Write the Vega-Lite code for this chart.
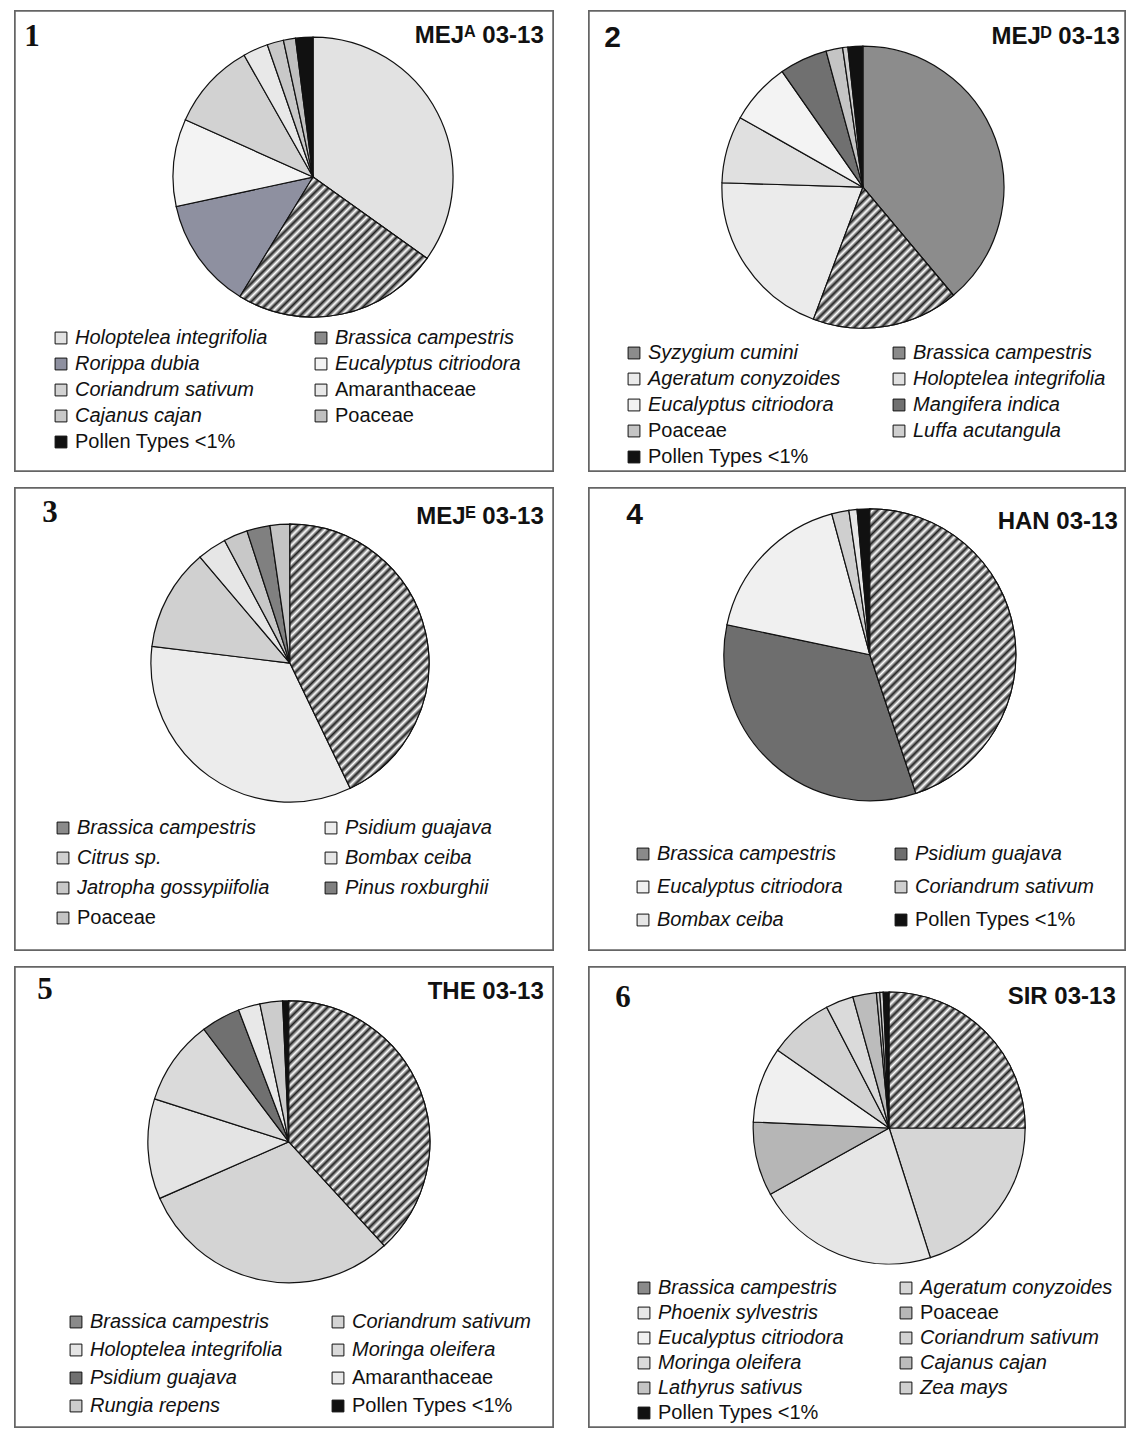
{
  "$schema": "https://vega.github.io/schema/vega-lite/v6.json",
  "padding": {"left": 14, "top": 10, "right": 0, "bottom": 0},
  "background": "white",
  "config": {
    "view": {"stroke": null},
    "font": "Liberation Sans",
    "legend": {
      "orient": "none", "columns": 2, "direction": "horizontal", "symbolType": "square", "symbolSize": 140,
      "symbolStrokeColor": "#111", "symbolStrokeWidth": 1, "labelFont": "Liberation Sans",
      "labelFontSize": 20, "labelColor": "#111", "labelLimit": 400, "rowPadding": 6,
      "columnPadding": 52, "padding": 0, "labelOffset": 4
    },
    "title": {"color": "#111", "fontWeight": "bold", "font": "Liberation Sans"}
  },
  "datasets": {
    "p1": [
      {"taxon": "Holoptelea integrifolia", "pct": 34.9, "i": 1},
      {"taxon": "Brassica campestris", "pct": 23.9, "i": 2},
      {"taxon": "Rorippa dubia", "pct": 12.9, "i": 3},
      {"taxon": "Eucalyptus citriodora", "pct": 10.1, "i": 4},
      {"taxon": "Coriandrum sativum", "pct": 10.1, "i": 5},
      {"taxon": "Amaranthaceae", "pct": 2.9, "i": 6},
      {"taxon": "Cajanus cajan", "pct": 1.9, "i": 7},
      {"taxon": "Poaceae", "pct": 1.4, "i": 8},
      {"taxon": "Pollen Types <1%", "pct": 2.0, "i": 9}
    ],
    "p2": [
      {"taxon": "Syzygium cumini", "pct": 38.9, "i": 1},
      {"taxon": "Brassica campestris", "pct": 16.8, "i": 2},
      {"taxon": "Ageratum conyzoides", "pct": 19.8, "i": 3},
      {"taxon": "Holoptelea integrifolia", "pct": 7.7, "i": 4},
      {"taxon": "Eucalyptus citriodora", "pct": 7.1, "i": 5},
      {"taxon": "Mangifera indica", "pct": 5.5, "i": 6},
      {"taxon": "Poaceae", "pct": 1.9, "i": 7},
      {"taxon": "Luffa acutangula", "pct": 0.6, "i": 8},
      {"taxon": "Pollen Types <1%", "pct": 1.7, "i": 9}
    ],
    "p3": [
      {"taxon": "Brassica campestris", "pct": 42.9, "i": 1},
      {"taxon": "Psidium guajava", "pct": 34.1, "i": 2},
      {"taxon": "Citrus sp.", "pct": 11.9, "i": 3},
      {"taxon": "Bombax ceiba", "pct": 3.4, "i": 4},
      {"taxon": "Jatropha gossypiifolia", "pct": 2.8, "i": 5},
      {"taxon": "Pinus roxburghii", "pct": 2.7, "i": 6},
      {"taxon": "Poaceae", "pct": 2.3, "i": 7}
    ],
    "p4": [
      {"taxon": "Brassica campestris", "pct": 44.9, "i": 1},
      {"taxon": "Psidium guajava", "pct": 33.4, "i": 2},
      {"taxon": "Eucalyptus citriodora", "pct": 17.5, "i": 3},
      {"taxon": "Coriandrum sativum", "pct": 1.9, "i": 4},
      {"taxon": "Bombax ceiba", "pct": 0.9, "i": 5},
      {"taxon": "Pollen Types <1%", "pct": 1.4, "i": 6}
    ],
    "p5": [
      {"taxon": "Brassica campestris", "pct": 38.2, "i": 1},
      {"taxon": "Coriandrum sativum", "pct": 30.3, "i": 2},
      {"taxon": "Holoptelea integrifolia", "pct": 11.5, "i": 3},
      {"taxon": "Moringa oleifera", "pct": 9.8, "i": 4},
      {"taxon": "Psidium guajava", "pct": 4.5, "i": 5},
      {"taxon": "Amaranthaceae", "pct": 2.5, "i": 6},
      {"taxon": "Rungia repens", "pct": 2.6, "i": 7},
      {"taxon": "Pollen Types <1%", "pct": 0.7, "i": 8}
    ],
    "p6": [
      {"taxon": "Brassica campestris", "pct": 25.0, "i": 1},
      {"taxon": "Ageratum conyzoides", "pct": 20.1, "i": 2},
      {"taxon": "Phoenix sylvestris", "pct": 21.8, "i": 3},
      {"taxon": "Poaceae", "pct": 8.8, "i": 4},
      {"taxon": "Eucalyptus citriodora", "pct": 9.0, "i": 5},
      {"taxon": "Coriandrum sativum", "pct": 7.7, "i": 6},
      {"taxon": "Moringa oleifera", "pct": 3.3, "i": 7},
      {"taxon": "Cajanus cajan", "pct": 2.8, "i": 8},
      {"taxon": "Lathyrus sativus", "pct": 0.4, "i": 9},
      {"taxon": "Zea mays", "pct": 0.4, "i": 10},
      {"taxon": "Pollen Types <1%", "pct": 0.7, "i": 11}
    ]
  },
  "spacing": 15,
  "resolve": {"scale": {"color": "independent", "theta": "independent", "x": "independent", "y": "independent"}, "legend": {"color": "independent"}},
  "vconcat": [
    {
      "spacing": 34,
      "resolve": {"scale": {"color": "independent", "theta": "independent", "x": "independent", "y": "independent"}, "legend": {"color": "independent"}},
      "hconcat": [
        {
          "title": {"text": "1", "anchor": "start", "offset": -43, "dx": 10, "font": "Liberation Serif", "fontSize": 31},
          "vconcat": [{
            "width": 538, "height": 460,
            "title": {"text": "MEJᴬ 03-13", "anchor": "end", "offset": -38, "dx": -10, "fontSize": 24},
            "data": {"name": "p1"},
            "encoding": {
              "theta": {"field": "pct", "type": "quantitative", "stack": true},
              "order": {"field": "i", "type": "quantitative"}
            },
            "layer": [
              {"mark": {"type": "rect", "fill": "white", "stroke": "#666", "strokeWidth": 1.5},
               "encoding": {"theta": null, "order": null, "x": {"datum": 0, "type": "quantitative", "scale": {"domain": [0, 1]}, "axis": null}, "x2": {"datum": 1},
                            "y": {"datum": 0, "type": "quantitative", "scale": {"domain": [0, 1]}, "axis": null}, "y2": {"datum": 1}}},
              {"mark": {"type": "arc", "outerRadius": 140, "stroke": "#111", "strokeWidth": 1.2},
               "encoding": {
                 "x": {"datum": 0.554, "type": "quantitative"},
                 "y": {"datum": 0.639, "type": "quantitative"},
                 "color": {"field": "taxon", "type": "nominal",
                   "scale": {"domain": ["Holoptelea integrifolia", "Brassica campestris", "Rorippa dubia", "Eucalyptus citriodora", "Coriandrum sativum", "Amaranthaceae", "Cajanus cajan", "Poaceae", "Pollen Types <1%"],
                             "range": ["#e2e2e2", "#8a8a8a", "#8e90a0", "#f3f3f3", "#d2d2d2", "#e8e8e8", "#c8c8c8", "#c0c0c0", "#111111"]},
                   "legend": {"title": null, "legendX": 36, "legendY": 317, "columnPadding": 43, "rowPadding": 6,
                     "encode": {"labels": {"update": {"fontStyle": {"signal": "indexof(['Poaceae','Amaranthaceae','Pollen Types <1%'], datum.label) >= 0 ? 'normal' : 'italic'"}}}}}
                 }
               }},
              {"mark": {"type": "arc", "outerRadius": 140, "stroke": "#111", "strokeWidth": 1.2,
                 "fill": {"gradient": "linear", "x1": 0, "y1": 0, "x2": 1.487, "y2": 1.112, "stops": [{"offset":0,"color":"#222"},{"offset":0.01,"color":"#fff"},{"offset":0.021,"color":"#222"},{"offset":0.031,"color":"#fff"},{"offset":0.042,"color":"#222"},{"offset":0.052,"color":"#fff"},{"offset":0.063,"color":"#222"},{"offset":0.073,"color":"#fff"},{"offset":0.083,"color":"#222"},{"offset":0.094,"color":"#fff"},{"offset":0.104,"color":"#222"},{"offset":0.115,"color":"#fff"},{"offset":0.125,"color":"#222"},{"offset":0.135,"color":"#fff"},{"offset":0.146,"color":"#222"},{"offset":0.156,"color":"#fff"},{"offset":0.167,"color":"#222"},{"offset":0.177,"color":"#fff"},{"offset":0.188,"color":"#222"},{"offset":0.198,"color":"#fff"},{"offset":0.208,"color":"#222"},{"offset":0.219,"color":"#fff"},{"offset":0.229,"color":"#222"},{"offset":0.24,"color":"#fff"},{"offset":0.25,"color":"#222"},{"offset":0.26,"color":"#fff"},{"offset":0.271,"color":"#222"},{"offset":0.281,"color":"#fff"},{"offset":0.292,"color":"#222"},{"offset":0.302,"color":"#fff"},{"offset":0.313,"color":"#222"},{"offset":0.323,"color":"#fff"},{"offset":0.333,"color":"#222"},{"offset":0.344,"color":"#fff"},{"offset":0.354,"color":"#222"},{"offset":0.365,"color":"#fff"},{"offset":0.375,"color":"#222"},{"offset":0.385,"color":"#fff"},{"offset":0.396,"color":"#222"},{"offset":0.406,"color":"#fff"},{"offset":0.417,"color":"#222"},{"offset":0.427,"color":"#fff"},{"offset":0.438,"color":"#222"},{"offset":0.448,"color":"#fff"},{"offset":0.458,"color":"#222"},{"offset":0.469,"color":"#fff"},{"offset":0.479,"color":"#222"},{"offset":0.49,"color":"#fff"},{"offset":0.5,"color":"#222"},{"offset":0.51,"color":"#fff"},{"offset":0.521,"color":"#222"},{"offset":0.531,"color":"#fff"},{"offset":0.542,"color":"#222"},{"offset":0.552,"color":"#fff"},{"offset":0.563,"color":"#222"},{"offset":0.573,"color":"#fff"},{"offset":0.583,"color":"#222"},{"offset":0.594,"color":"#fff"},{"offset":0.604,"color":"#222"},{"offset":0.615,"color":"#fff"},{"offset":0.625,"color":"#222"},{"offset":0.635,"color":"#fff"},{"offset":0.646,"color":"#222"},{"offset":0.656,"color":"#fff"},{"offset":0.667,"color":"#222"},{"offset":0.677,"color":"#fff"},{"offset":0.688,"color":"#222"},{"offset":0.698,"color":"#fff"},{"offset":0.708,"color":"#222"},{"offset":0.719,"color":"#fff"},{"offset":0.729,"color":"#222"},{"offset":0.74,"color":"#fff"},{"offset":0.75,"color":"#222"},{"offset":0.76,"color":"#fff"},{"offset":0.771,"color":"#222"},{"offset":0.781,"color":"#fff"},{"offset":0.792,"color":"#222"},{"offset":0.802,"color":"#fff"},{"offset":0.813,"color":"#222"},{"offset":0.823,"color":"#fff"},{"offset":0.833,"color":"#222"},{"offset":0.844,"color":"#fff"},{"offset":0.854,"color":"#222"},{"offset":0.865,"color":"#fff"},{"offset":0.875,"color":"#222"},{"offset":0.885,"color":"#fff"},{"offset":0.896,"color":"#222"},{"offset":0.906,"color":"#fff"},{"offset":0.917,"color":"#222"},{"offset":0.927,"color":"#fff"},{"offset":0.938,"color":"#222"},{"offset":0.948,"color":"#fff"},{"offset":0.958,"color":"#222"},{"offset":0.969,"color":"#fff"},{"offset":0.979,"color":"#222"},{"offset":0.99,"color":"#fff"},{"offset":1,"color":"#222"}]}},
               "encoding": {
                 "x": {"datum": 0.554, "type": "quantitative"},
                 "y": {"datum": 0.639, "type": "quantitative"},
                 "opacity": {"condition": {"test": "datum.taxon === 'Brassica campestris'", "value": 1}, "value": 0}
               }}
            ]
          }]
        },
        {
          "title": {"text": "2", "anchor": "start", "offset": -43, "dx": 16, "font": "Liberation Sans", "fontSize": 30},
          "vconcat": [{
            "width": 536, "height": 460,
            "title": {"text": "MEJᴰ 03-13", "anchor": "end", "offset": -39, "dx": -6, "fontSize": 24},
            "data": {"name": "p2"},
            "encoding": {
              "theta": {"field": "pct", "type": "quantitative", "stack": true},
              "order": {"field": "i", "type": "quantitative"}
            },
            "layer": [
              {"mark": {"type": "rect", "fill": "white", "stroke": "#666", "strokeWidth": 1.5},
               "encoding": {"theta": null, "order": null, "x": {"datum": 0, "type": "quantitative", "scale": {"domain": [0, 1]}, "axis": null}, "x2": {"datum": 1},
                            "y": {"datum": 0, "type": "quantitative", "scale": {"domain": [0, 1]}, "axis": null}, "y2": {"datum": 1}}},
              {"mark": {"type": "arc", "outerRadius": 141, "stroke": "#111", "strokeWidth": 1.2},
               "encoding": {
                 "x": {"datum": 0.511, "type": "quantitative"},
                 "y": {"datum": 0.617, "type": "quantitative"},
                 "color": {"field": "taxon", "type": "nominal",
                   "scale": {"domain": ["Syzygium cumini", "Brassica campestris", "Ageratum conyzoides", "Holoptelea integrifolia", "Eucalyptus citriodora", "Mangifera indica", "Poaceae", "Luffa acutangula", "Pollen Types <1%"],
                             "range": ["#8c8c8c", "#8a8a8a", "#ebebeb", "#e0e0e0", "#f3f3f3", "#707070", "#c4c4c4", "#cfcfcf", "#111111"]},
                   "legend": {"title": null, "legendX": 35, "legendY": 332, "columnPadding": 48, "rowPadding": 6,
                     "encode": {"labels": {"update": {"fontStyle": {"signal": "indexof(['Poaceae','Amaranthaceae','Pollen Types <1%'], datum.label) >= 0 ? 'normal' : 'italic'"}}}}}
                 }
               }},
              {"mark": {"type": "arc", "outerRadius": 141, "stroke": "#111", "strokeWidth": 1.2,
                 "fill": {"gradient": "linear", "x1": 0, "y1": 0, "x2": 1.54, "y2": 1.551, "stops": [{"offset":0,"color":"#222"},{"offset":0.01,"color":"#fff"},{"offset":0.021,"color":"#222"},{"offset":0.031,"color":"#fff"},{"offset":0.042,"color":"#222"},{"offset":0.052,"color":"#fff"},{"offset":0.063,"color":"#222"},{"offset":0.073,"color":"#fff"},{"offset":0.083,"color":"#222"},{"offset":0.094,"color":"#fff"},{"offset":0.104,"color":"#222"},{"offset":0.115,"color":"#fff"},{"offset":0.125,"color":"#222"},{"offset":0.135,"color":"#fff"},{"offset":0.146,"color":"#222"},{"offset":0.156,"color":"#fff"},{"offset":0.167,"color":"#222"},{"offset":0.177,"color":"#fff"},{"offset":0.188,"color":"#222"},{"offset":0.198,"color":"#fff"},{"offset":0.208,"color":"#222"},{"offset":0.219,"color":"#fff"},{"offset":0.229,"color":"#222"},{"offset":0.24,"color":"#fff"},{"offset":0.25,"color":"#222"},{"offset":0.26,"color":"#fff"},{"offset":0.271,"color":"#222"},{"offset":0.281,"color":"#fff"},{"offset":0.292,"color":"#222"},{"offset":0.302,"color":"#fff"},{"offset":0.313,"color":"#222"},{"offset":0.323,"color":"#fff"},{"offset":0.333,"color":"#222"},{"offset":0.344,"color":"#fff"},{"offset":0.354,"color":"#222"},{"offset":0.365,"color":"#fff"},{"offset":0.375,"color":"#222"},{"offset":0.385,"color":"#fff"},{"offset":0.396,"color":"#222"},{"offset":0.406,"color":"#fff"},{"offset":0.417,"color":"#222"},{"offset":0.427,"color":"#fff"},{"offset":0.438,"color":"#222"},{"offset":0.448,"color":"#fff"},{"offset":0.458,"color":"#222"},{"offset":0.469,"color":"#fff"},{"offset":0.479,"color":"#222"},{"offset":0.49,"color":"#fff"},{"offset":0.5,"color":"#222"},{"offset":0.51,"color":"#fff"},{"offset":0.521,"color":"#222"},{"offset":0.531,"color":"#fff"},{"offset":0.542,"color":"#222"},{"offset":0.552,"color":"#fff"},{"offset":0.563,"color":"#222"},{"offset":0.573,"color":"#fff"},{"offset":0.583,"color":"#222"},{"offset":0.594,"color":"#fff"},{"offset":0.604,"color":"#222"},{"offset":0.615,"color":"#fff"},{"offset":0.625,"color":"#222"},{"offset":0.635,"color":"#fff"},{"offset":0.646,"color":"#222"},{"offset":0.656,"color":"#fff"},{"offset":0.667,"color":"#222"},{"offset":0.677,"color":"#fff"},{"offset":0.688,"color":"#222"},{"offset":0.698,"color":"#fff"},{"offset":0.708,"color":"#222"},{"offset":0.719,"color":"#fff"},{"offset":0.729,"color":"#222"},{"offset":0.74,"color":"#fff"},{"offset":0.75,"color":"#222"},{"offset":0.76,"color":"#fff"},{"offset":0.771,"color":"#222"},{"offset":0.781,"color":"#fff"},{"offset":0.792,"color":"#222"},{"offset":0.802,"color":"#fff"},{"offset":0.813,"color":"#222"},{"offset":0.823,"color":"#fff"},{"offset":0.833,"color":"#222"},{"offset":0.844,"color":"#fff"},{"offset":0.854,"color":"#222"},{"offset":0.865,"color":"#fff"},{"offset":0.875,"color":"#222"},{"offset":0.885,"color":"#fff"},{"offset":0.896,"color":"#222"},{"offset":0.906,"color":"#fff"},{"offset":0.917,"color":"#222"},{"offset":0.927,"color":"#fff"},{"offset":0.938,"color":"#222"},{"offset":0.948,"color":"#fff"},{"offset":0.958,"color":"#222"},{"offset":0.969,"color":"#fff"},{"offset":0.979,"color":"#222"},{"offset":0.99,"color":"#fff"},{"offset":1,"color":"#222"}]}},
               "encoding": {
                 "x": {"datum": 0.511, "type": "quantitative"},
                 "y": {"datum": 0.617, "type": "quantitative"},
                 "opacity": {"condition": {"test": "datum.taxon === 'Brassica campestris'", "value": 1}, "value": 0}
               }}
            ]
          }]
        }
      ]
    },
    {
      "spacing": 34,
      "resolve": {"scale": {"color": "independent", "theta": "independent", "x": "independent", "y": "independent"}, "legend": {"color": "independent"}},
      "hconcat": [
        {
          "title": {"text": "3", "anchor": "start", "offset": -42, "dx": 28, "font": "Liberation Serif", "fontSize": 31},
          "vconcat": [{
            "width": 538, "height": 462,
            "title": {"text": "MEJᴱ 03-13", "anchor": "end", "offset": -42, "dx": -10, "fontSize": 24},
            "data": {"name": "p3"},
            "encoding": {
              "theta": {"field": "pct", "type": "quantitative", "stack": true},
              "order": {"field": "i", "type": "quantitative"}
            },
            "layer": [
              {"mark": {"type": "rect", "fill": "white", "stroke": "#666", "strokeWidth": 1.5},
               "encoding": {"theta": null, "order": null, "x": {"datum": 0, "type": "quantitative", "scale": {"domain": [0, 1]}, "axis": null}, "x2": {"datum": 1},
                            "y": {"datum": 0, "type": "quantitative", "scale": {"domain": [0, 1]}, "axis": null}, "y2": {"datum": 1}}},
              {"mark": {"type": "arc", "outerRadius": 139, "stroke": "#111", "strokeWidth": 1.2},
               "encoding": {
                 "x": {"datum": 0.511, "type": "quantitative"},
                 "y": {"datum": 0.621, "type": "quantitative"},
                 "color": {"field": "taxon", "type": "nominal",
                   "scale": {"domain": ["Brassica campestris", "Psidium guajava", "Citrus sp.", "Bombax ceiba", "Jatropha gossypiifolia", "Pinus roxburghii", "Poaceae"],
                             "range": ["#8a8a8a", "#ececec", "#d0d0d0", "#e6e6e6", "#c8c8c8", "#808080", "#c4c4c4"]},
                   "legend": {"title": null, "legendX": 38, "legendY": 330, "columnPadding": 51, "rowPadding": 10,
                     "encode": {"labels": {"update": {"fontStyle": {"signal": "indexof(['Poaceae','Amaranthaceae','Pollen Types <1%'], datum.label) >= 0 ? 'normal' : 'italic'"}}}}}
                 }
               }},
              {"mark": {"type": "arc", "outerRadius": 139, "stroke": "#111", "strokeWidth": 1.2,
                 "fill": {"gradient": "linear", "x1": 0, "y1": 0, "x2": 0.676, "y2": 1.287, "stops": [{"offset":0,"color":"#222"},{"offset":0.01,"color":"#fff"},{"offset":0.021,"color":"#222"},{"offset":0.031,"color":"#fff"},{"offset":0.042,"color":"#222"},{"offset":0.052,"color":"#fff"},{"offset":0.063,"color":"#222"},{"offset":0.073,"color":"#fff"},{"offset":0.083,"color":"#222"},{"offset":0.094,"color":"#fff"},{"offset":0.104,"color":"#222"},{"offset":0.115,"color":"#fff"},{"offset":0.125,"color":"#222"},{"offset":0.135,"color":"#fff"},{"offset":0.146,"color":"#222"},{"offset":0.156,"color":"#fff"},{"offset":0.167,"color":"#222"},{"offset":0.177,"color":"#fff"},{"offset":0.188,"color":"#222"},{"offset":0.198,"color":"#fff"},{"offset":0.208,"color":"#222"},{"offset":0.219,"color":"#fff"},{"offset":0.229,"color":"#222"},{"offset":0.24,"color":"#fff"},{"offset":0.25,"color":"#222"},{"offset":0.26,"color":"#fff"},{"offset":0.271,"color":"#222"},{"offset":0.281,"color":"#fff"},{"offset":0.292,"color":"#222"},{"offset":0.302,"color":"#fff"},{"offset":0.313,"color":"#222"},{"offset":0.323,"color":"#fff"},{"offset":0.333,"color":"#222"},{"offset":0.344,"color":"#fff"},{"offset":0.354,"color":"#222"},{"offset":0.365,"color":"#fff"},{"offset":0.375,"color":"#222"},{"offset":0.385,"color":"#fff"},{"offset":0.396,"color":"#222"},{"offset":0.406,"color":"#fff"},{"offset":0.417,"color":"#222"},{"offset":0.427,"color":"#fff"},{"offset":0.438,"color":"#222"},{"offset":0.448,"color":"#fff"},{"offset":0.458,"color":"#222"},{"offset":0.469,"color":"#fff"},{"offset":0.479,"color":"#222"},{"offset":0.49,"color":"#fff"},{"offset":0.5,"color":"#222"},{"offset":0.51,"color":"#fff"},{"offset":0.521,"color":"#222"},{"offset":0.531,"color":"#fff"},{"offset":0.542,"color":"#222"},{"offset":0.552,"color":"#fff"},{"offset":0.563,"color":"#222"},{"offset":0.573,"color":"#fff"},{"offset":0.583,"color":"#222"},{"offset":0.594,"color":"#fff"},{"offset":0.604,"color":"#222"},{"offset":0.615,"color":"#fff"},{"offset":0.625,"color":"#222"},{"offset":0.635,"color":"#fff"},{"offset":0.646,"color":"#222"},{"offset":0.656,"color":"#fff"},{"offset":0.667,"color":"#222"},{"offset":0.677,"color":"#fff"},{"offset":0.688,"color":"#222"},{"offset":0.698,"color":"#fff"},{"offset":0.708,"color":"#222"},{"offset":0.719,"color":"#fff"},{"offset":0.729,"color":"#222"},{"offset":0.74,"color":"#fff"},{"offset":0.75,"color":"#222"},{"offset":0.76,"color":"#fff"},{"offset":0.771,"color":"#222"},{"offset":0.781,"color":"#fff"},{"offset":0.792,"color":"#222"},{"offset":0.802,"color":"#fff"},{"offset":0.813,"color":"#222"},{"offset":0.823,"color":"#fff"},{"offset":0.833,"color":"#222"},{"offset":0.844,"color":"#fff"},{"offset":0.854,"color":"#222"},{"offset":0.865,"color":"#fff"},{"offset":0.875,"color":"#222"},{"offset":0.885,"color":"#fff"},{"offset":0.896,"color":"#222"},{"offset":0.906,"color":"#fff"},{"offset":0.917,"color":"#222"},{"offset":0.927,"color":"#fff"},{"offset":0.938,"color":"#222"},{"offset":0.948,"color":"#fff"},{"offset":0.958,"color":"#222"},{"offset":0.969,"color":"#fff"},{"offset":0.979,"color":"#222"},{"offset":0.99,"color":"#fff"},{"offset":1,"color":"#222"}]}},
               "encoding": {
                 "x": {"datum": 0.511, "type": "quantitative"},
                 "y": {"datum": 0.621, "type": "quantitative"},
                 "opacity": {"condition": {"test": "datum.taxon === 'Brassica campestris'", "value": 1}, "value": 0}
               }}
            ]
          }]
        },
        {
          "title": {"text": "4", "anchor": "start", "offset": -43, "dx": 38, "font": "Liberation Sans", "fontSize": 30},
          "vconcat": [{
            "width": 536, "height": 462,
            "title": {"text": "HAN 03-13", "anchor": "end", "offset": -47, "dx": -8, "fontSize": 24},
            "data": {"name": "p4"},
            "encoding": {
              "theta": {"field": "pct", "type": "quantitative", "stack": true},
              "order": {"field": "i", "type": "quantitative"}
            },
            "layer": [
              {"mark": {"type": "rect", "fill": "white", "stroke": "#666", "strokeWidth": 1.5},
               "encoding": {"theta": null, "order": null, "x": {"datum": 0, "type": "quantitative", "scale": {"domain": [0, 1]}, "axis": null}, "x2": {"datum": 1},
                            "y": {"datum": 0, "type": "quantitative", "scale": {"domain": [0, 1]}, "axis": null}, "y2": {"datum": 1}}},
              {"mark": {"type": "arc", "outerRadius": 146, "stroke": "#111", "strokeWidth": 1.2},
               "encoding": {
                 "x": {"datum": 0.524, "type": "quantitative"},
                 "y": {"datum": 0.639, "type": "quantitative"},
                 "color": {"field": "taxon", "type": "nominal",
                   "scale": {"domain": ["Brassica campestris", "Psidium guajava", "Eucalyptus citriodora", "Coriandrum sativum", "Bombax ceiba", "Pollen Types <1%"],
                             "range": ["#8a8a8a", "#6e6e6e", "#f0f0f0", "#cfcfcf", "#e6e6e6", "#111111"]},
                   "legend": {"title": null, "legendX": 44, "legendY": 356, "columnPadding": 48, "rowPadding": 13,
                     "encode": {"labels": {"update": {"fontStyle": {"signal": "indexof(['Poaceae','Amaranthaceae','Pollen Types <1%'], datum.label) >= 0 ? 'normal' : 'italic'"}}}}}
                 }
               }},
              {"mark": {"type": "arc", "outerRadius": 146, "stroke": "#111", "strokeWidth": 1.2,
                 "fill": {"gradient": "linear", "x1": 0, "y1": 0, "x2": 0.62, "y2": 1.208, "stops": [{"offset":0,"color":"#222"},{"offset":0.01,"color":"#fff"},{"offset":0.021,"color":"#222"},{"offset":0.031,"color":"#fff"},{"offset":0.042,"color":"#222"},{"offset":0.052,"color":"#fff"},{"offset":0.063,"color":"#222"},{"offset":0.073,"color":"#fff"},{"offset":0.083,"color":"#222"},{"offset":0.094,"color":"#fff"},{"offset":0.104,"color":"#222"},{"offset":0.115,"color":"#fff"},{"offset":0.125,"color":"#222"},{"offset":0.135,"color":"#fff"},{"offset":0.146,"color":"#222"},{"offset":0.156,"color":"#fff"},{"offset":0.167,"color":"#222"},{"offset":0.177,"color":"#fff"},{"offset":0.188,"color":"#222"},{"offset":0.198,"color":"#fff"},{"offset":0.208,"color":"#222"},{"offset":0.219,"color":"#fff"},{"offset":0.229,"color":"#222"},{"offset":0.24,"color":"#fff"},{"offset":0.25,"color":"#222"},{"offset":0.26,"color":"#fff"},{"offset":0.271,"color":"#222"},{"offset":0.281,"color":"#fff"},{"offset":0.292,"color":"#222"},{"offset":0.302,"color":"#fff"},{"offset":0.313,"color":"#222"},{"offset":0.323,"color":"#fff"},{"offset":0.333,"color":"#222"},{"offset":0.344,"color":"#fff"},{"offset":0.354,"color":"#222"},{"offset":0.365,"color":"#fff"},{"offset":0.375,"color":"#222"},{"offset":0.385,"color":"#fff"},{"offset":0.396,"color":"#222"},{"offset":0.406,"color":"#fff"},{"offset":0.417,"color":"#222"},{"offset":0.427,"color":"#fff"},{"offset":0.438,"color":"#222"},{"offset":0.448,"color":"#fff"},{"offset":0.458,"color":"#222"},{"offset":0.469,"color":"#fff"},{"offset":0.479,"color":"#222"},{"offset":0.49,"color":"#fff"},{"offset":0.5,"color":"#222"},{"offset":0.51,"color":"#fff"},{"offset":0.521,"color":"#222"},{"offset":0.531,"color":"#fff"},{"offset":0.542,"color":"#222"},{"offset":0.552,"color":"#fff"},{"offset":0.563,"color":"#222"},{"offset":0.573,"color":"#fff"},{"offset":0.583,"color":"#222"},{"offset":0.594,"color":"#fff"},{"offset":0.604,"color":"#222"},{"offset":0.615,"color":"#fff"},{"offset":0.625,"color":"#222"},{"offset":0.635,"color":"#fff"},{"offset":0.646,"color":"#222"},{"offset":0.656,"color":"#fff"},{"offset":0.667,"color":"#222"},{"offset":0.677,"color":"#fff"},{"offset":0.688,"color":"#222"},{"offset":0.698,"color":"#fff"},{"offset":0.708,"color":"#222"},{"offset":0.719,"color":"#fff"},{"offset":0.729,"color":"#222"},{"offset":0.74,"color":"#fff"},{"offset":0.75,"color":"#222"},{"offset":0.76,"color":"#fff"},{"offset":0.771,"color":"#222"},{"offset":0.781,"color":"#fff"},{"offset":0.792,"color":"#222"},{"offset":0.802,"color":"#fff"},{"offset":0.813,"color":"#222"},{"offset":0.823,"color":"#fff"},{"offset":0.833,"color":"#222"},{"offset":0.844,"color":"#fff"},{"offset":0.854,"color":"#222"},{"offset":0.865,"color":"#fff"},{"offset":0.875,"color":"#222"},{"offset":0.885,"color":"#fff"},{"offset":0.896,"color":"#222"},{"offset":0.906,"color":"#fff"},{"offset":0.917,"color":"#222"},{"offset":0.927,"color":"#fff"},{"offset":0.938,"color":"#222"},{"offset":0.948,"color":"#fff"},{"offset":0.958,"color":"#222"},{"offset":0.969,"color":"#fff"},{"offset":0.979,"color":"#222"},{"offset":0.99,"color":"#fff"},{"offset":1,"color":"#222"}]}},
               "encoding": {
                 "x": {"datum": 0.524, "type": "quantitative"},
                 "y": {"datum": 0.639, "type": "quantitative"},
                 "opacity": {"condition": {"test": "datum.taxon === 'Brassica campestris'", "value": 1}, "value": 0}
               }}
            ]
          }]
        }
      ]
    },
    {
      "spacing": 34,
      "resolve": {"scale": {"color": "independent", "theta": "independent", "x": "independent", "y": "independent"}, "legend": {"color": "independent"}},
      "hconcat": [
        {
          "title": {"text": "5", "anchor": "start", "offset": -40, "dx": 23, "font": "Liberation Serif", "fontSize": 31},
          "vconcat": [{
            "width": 538, "height": 460,
            "title": {"text": "THE 03-13", "anchor": "end", "offset": -38, "dx": -10, "fontSize": 24},
            "data": {"name": "p5"},
            "encoding": {
              "theta": {"field": "pct", "type": "quantitative", "stack": true},
              "order": {"field": "i", "type": "quantitative"}
            },
            "layer": [
              {"mark": {"type": "rect", "fill": "white", "stroke": "#666", "strokeWidth": 1.5},
               "encoding": {"theta": null, "order": null, "x": {"datum": 0, "type": "quantitative", "scale": {"domain": [0, 1]}, "axis": null}, "x2": {"datum": 1},
                            "y": {"datum": 0, "type": "quantitative", "scale": {"domain": [0, 1]}, "axis": null}, "y2": {"datum": 1}}},
              {"mark": {"type": "arc", "outerRadius": 141, "stroke": "#111", "strokeWidth": 1.2},
               "encoding": {
                 "x": {"datum": 0.509, "type": "quantitative"},
                 "y": {"datum": 0.62, "type": "quantitative"},
                 "color": {"field": "taxon", "type": "nominal",
                   "scale": {"domain": ["Brassica campestris", "Coriandrum sativum", "Holoptelea integrifolia", "Moringa oleifera", "Psidium guajava", "Amaranthaceae", "Rungia repens", "Pollen Types <1%"],
                             "range": ["#8a8a8a", "#d4d4d4", "#e4e4e4", "#dadada", "#707070", "#e8e8e8", "#cccccc", "#111111"]},
                   "legend": {"title": null, "legendX": 51, "legendY": 345, "columnPadding": 45, "rowPadding": 8,
                     "encode": {"labels": {"update": {"fontStyle": {"signal": "indexof(['Poaceae','Amaranthaceae','Pollen Types <1%'], datum.label) >= 0 ? 'normal' : 'italic'"}}}}}
                 }
               }},
              {"mark": {"type": "arc", "outerRadius": 141, "stroke": "#111", "strokeWidth": 1.2,
                 "fill": {"gradient": "linear", "x1": 0, "y1": 0, "x2": 0.766, "y2": 1.331, "stops": [{"offset":0,"color":"#222"},{"offset":0.01,"color":"#fff"},{"offset":0.021,"color":"#222"},{"offset":0.031,"color":"#fff"},{"offset":0.042,"color":"#222"},{"offset":0.052,"color":"#fff"},{"offset":0.063,"color":"#222"},{"offset":0.073,"color":"#fff"},{"offset":0.083,"color":"#222"},{"offset":0.094,"color":"#fff"},{"offset":0.104,"color":"#222"},{"offset":0.115,"color":"#fff"},{"offset":0.125,"color":"#222"},{"offset":0.135,"color":"#fff"},{"offset":0.146,"color":"#222"},{"offset":0.156,"color":"#fff"},{"offset":0.167,"color":"#222"},{"offset":0.177,"color":"#fff"},{"offset":0.188,"color":"#222"},{"offset":0.198,"color":"#fff"},{"offset":0.208,"color":"#222"},{"offset":0.219,"color":"#fff"},{"offset":0.229,"color":"#222"},{"offset":0.24,"color":"#fff"},{"offset":0.25,"color":"#222"},{"offset":0.26,"color":"#fff"},{"offset":0.271,"color":"#222"},{"offset":0.281,"color":"#fff"},{"offset":0.292,"color":"#222"},{"offset":0.302,"color":"#fff"},{"offset":0.313,"color":"#222"},{"offset":0.323,"color":"#fff"},{"offset":0.333,"color":"#222"},{"offset":0.344,"color":"#fff"},{"offset":0.354,"color":"#222"},{"offset":0.365,"color":"#fff"},{"offset":0.375,"color":"#222"},{"offset":0.385,"color":"#fff"},{"offset":0.396,"color":"#222"},{"offset":0.406,"color":"#fff"},{"offset":0.417,"color":"#222"},{"offset":0.427,"color":"#fff"},{"offset":0.438,"color":"#222"},{"offset":0.448,"color":"#fff"},{"offset":0.458,"color":"#222"},{"offset":0.469,"color":"#fff"},{"offset":0.479,"color":"#222"},{"offset":0.49,"color":"#fff"},{"offset":0.5,"color":"#222"},{"offset":0.51,"color":"#fff"},{"offset":0.521,"color":"#222"},{"offset":0.531,"color":"#fff"},{"offset":0.542,"color":"#222"},{"offset":0.552,"color":"#fff"},{"offset":0.563,"color":"#222"},{"offset":0.573,"color":"#fff"},{"offset":0.583,"color":"#222"},{"offset":0.594,"color":"#fff"},{"offset":0.604,"color":"#222"},{"offset":0.615,"color":"#fff"},{"offset":0.625,"color":"#222"},{"offset":0.635,"color":"#fff"},{"offset":0.646,"color":"#222"},{"offset":0.656,"color":"#fff"},{"offset":0.667,"color":"#222"},{"offset":0.677,"color":"#fff"},{"offset":0.688,"color":"#222"},{"offset":0.698,"color":"#fff"},{"offset":0.708,"color":"#222"},{"offset":0.719,"color":"#fff"},{"offset":0.729,"color":"#222"},{"offset":0.74,"color":"#fff"},{"offset":0.75,"color":"#222"},{"offset":0.76,"color":"#fff"},{"offset":0.771,"color":"#222"},{"offset":0.781,"color":"#fff"},{"offset":0.792,"color":"#222"},{"offset":0.802,"color":"#fff"},{"offset":0.813,"color":"#222"},{"offset":0.823,"color":"#fff"},{"offset":0.833,"color":"#222"},{"offset":0.844,"color":"#fff"},{"offset":0.854,"color":"#222"},{"offset":0.865,"color":"#fff"},{"offset":0.875,"color":"#222"},{"offset":0.885,"color":"#fff"},{"offset":0.896,"color":"#222"},{"offset":0.906,"color":"#fff"},{"offset":0.917,"color":"#222"},{"offset":0.927,"color":"#fff"},{"offset":0.938,"color":"#222"},{"offset":0.948,"color":"#fff"},{"offset":0.958,"color":"#222"},{"offset":0.969,"color":"#fff"},{"offset":0.979,"color":"#222"},{"offset":0.99,"color":"#fff"},{"offset":1,"color":"#222"}]}},
               "encoding": {
                 "x": {"datum": 0.509, "type": "quantitative"},
                 "y": {"datum": 0.62, "type": "quantitative"},
                 "opacity": {"condition": {"test": "datum.taxon === 'Brassica campestris'", "value": 1}, "value": 0}
               }}
            ]
          }]
        },
        {
          "title": {"text": "6", "anchor": "start", "offset": -48, "dx": 27, "font": "Liberation Serif", "fontSize": 31},
          "vconcat": [{
            "width": 536, "height": 460,
            "title": {"text": "SIR 03-13", "anchor": "end", "offset": -43, "dx": -10, "fontSize": 24},
            "data": {"name": "p6"},
            "encoding": {
              "theta": {"field": "pct", "type": "quantitative", "stack": true},
              "order": {"field": "i", "type": "quantitative"}
            },
            "layer": [
              {"mark": {"type": "rect", "fill": "white", "stroke": "#666", "strokeWidth": 1.5},
               "encoding": {"theta": null, "order": null, "x": {"datum": 0, "type": "quantitative", "scale": {"domain": [0, 1]}, "axis": null}, "x2": {"datum": 1},
                            "y": {"datum": 0, "type": "quantitative", "scale": {"domain": [0, 1]}, "axis": null}, "y2": {"datum": 1}}},
              {"mark": {"type": "arc", "outerRadius": 136, "stroke": "#111", "strokeWidth": 1.2},
               "encoding": {
                 "x": {"datum": 0.56, "type": "quantitative"},
                 "y": {"datum": 0.65, "type": "quantitative"},
                 "color": {"field": "taxon", "type": "nominal",
                   "scale": {"domain": ["Brassica campestris", "Ageratum conyzoides", "Phoenix sylvestris", "Poaceae", "Eucalyptus citriodora", "Coriandrum sativum", "Moringa oleifera", "Cajanus cajan", "Lathyrus sativus", "Zea mays", "Pollen Types <1%"],
                             "range": ["#8a8a8a", "#d6d6d6", "#e6e6e6", "#b6b6b6", "#f0f0f0", "#d2d2d2", "#dadada", "#bcbcbc", "#c4c4c4", "#d0d0d0", "#111111"]},
                   "legend": {"title": null, "legendX": 45, "legendY": 311, "columnPadding": 52, "rowPadding": 5,
                     "encode": {"labels": {"update": {"fontStyle": {"signal": "indexof(['Poaceae','Amaranthaceae','Pollen Types <1%'], datum.label) >= 0 ? 'normal' : 'italic'"}}}}}
                 }
               }},
              {"mark": {"type": "arc", "outerRadius": 136, "stroke": "#111", "strokeWidth": 1.2,
                 "fill": {"gradient": "linear", "x1": 0, "y1": 0, "x2": 1.596, "y2": 1.596, "stops": [{"offset":0,"color":"#222"},{"offset":0.01,"color":"#fff"},{"offset":0.021,"color":"#222"},{"offset":0.031,"color":"#fff"},{"offset":0.042,"color":"#222"},{"offset":0.052,"color":"#fff"},{"offset":0.063,"color":"#222"},{"offset":0.073,"color":"#fff"},{"offset":0.083,"color":"#222"},{"offset":0.094,"color":"#fff"},{"offset":0.104,"color":"#222"},{"offset":0.115,"color":"#fff"},{"offset":0.125,"color":"#222"},{"offset":0.135,"color":"#fff"},{"offset":0.146,"color":"#222"},{"offset":0.156,"color":"#fff"},{"offset":0.167,"color":"#222"},{"offset":0.177,"color":"#fff"},{"offset":0.188,"color":"#222"},{"offset":0.198,"color":"#fff"},{"offset":0.208,"color":"#222"},{"offset":0.219,"color":"#fff"},{"offset":0.229,"color":"#222"},{"offset":0.24,"color":"#fff"},{"offset":0.25,"color":"#222"},{"offset":0.26,"color":"#fff"},{"offset":0.271,"color":"#222"},{"offset":0.281,"color":"#fff"},{"offset":0.292,"color":"#222"},{"offset":0.302,"color":"#fff"},{"offset":0.313,"color":"#222"},{"offset":0.323,"color":"#fff"},{"offset":0.333,"color":"#222"},{"offset":0.344,"color":"#fff"},{"offset":0.354,"color":"#222"},{"offset":0.365,"color":"#fff"},{"offset":0.375,"color":"#222"},{"offset":0.385,"color":"#fff"},{"offset":0.396,"color":"#222"},{"offset":0.406,"color":"#fff"},{"offset":0.417,"color":"#222"},{"offset":0.427,"color":"#fff"},{"offset":0.438,"color":"#222"},{"offset":0.448,"color":"#fff"},{"offset":0.458,"color":"#222"},{"offset":0.469,"color":"#fff"},{"offset":0.479,"color":"#222"},{"offset":0.49,"color":"#fff"},{"offset":0.5,"color":"#222"},{"offset":0.51,"color":"#fff"},{"offset":0.521,"color":"#222"},{"offset":0.531,"color":"#fff"},{"offset":0.542,"color":"#222"},{"offset":0.552,"color":"#fff"},{"offset":0.563,"color":"#222"},{"offset":0.573,"color":"#fff"},{"offset":0.583,"color":"#222"},{"offset":0.594,"color":"#fff"},{"offset":0.604,"color":"#222"},{"offset":0.615,"color":"#fff"},{"offset":0.625,"color":"#222"},{"offset":0.635,"color":"#fff"},{"offset":0.646,"color":"#222"},{"offset":0.656,"color":"#fff"},{"offset":0.667,"color":"#222"},{"offset":0.677,"color":"#fff"},{"offset":0.688,"color":"#222"},{"offset":0.698,"color":"#fff"},{"offset":0.708,"color":"#222"},{"offset":0.719,"color":"#fff"},{"offset":0.729,"color":"#222"},{"offset":0.74,"color":"#fff"},{"offset":0.75,"color":"#222"},{"offset":0.76,"color":"#fff"},{"offset":0.771,"color":"#222"},{"offset":0.781,"color":"#fff"},{"offset":0.792,"color":"#222"},{"offset":0.802,"color":"#fff"},{"offset":0.813,"color":"#222"},{"offset":0.823,"color":"#fff"},{"offset":0.833,"color":"#222"},{"offset":0.844,"color":"#fff"},{"offset":0.854,"color":"#222"},{"offset":0.865,"color":"#fff"},{"offset":0.875,"color":"#222"},{"offset":0.885,"color":"#fff"},{"offset":0.896,"color":"#222"},{"offset":0.906,"color":"#fff"},{"offset":0.917,"color":"#222"},{"offset":0.927,"color":"#fff"},{"offset":0.938,"color":"#222"},{"offset":0.948,"color":"#fff"},{"offset":0.958,"color":"#222"},{"offset":0.969,"color":"#fff"},{"offset":0.979,"color":"#222"},{"offset":0.99,"color":"#fff"},{"offset":1,"color":"#222"}]}},
               "encoding": {
                 "x": {"datum": 0.56, "type": "quantitative"},
                 "y": {"datum": 0.65, "type": "quantitative"},
                 "opacity": {"condition": {"test": "datum.taxon === 'Brassica campestris'", "value": 1}, "value": 0}
               }}
            ]
          }]
        }
      ]
    }
  ]
}
